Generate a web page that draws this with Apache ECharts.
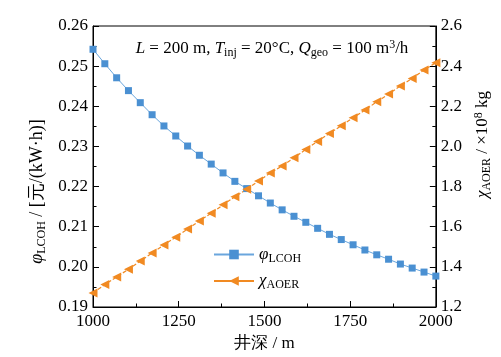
<!DOCTYPE html>
<html>
<head>
<meta charset="utf-8">
<script src="https://cdn.jsdelivr.net/npm/echarts@6/dist/echarts.min.js"></script>
<style>html,body{margin:0;padding:0;background:#fff}#c{width:501px;height:357px}</style>
</head>
<body>
<div id="c"></div>
<script>
// well depth (m)
var depth = [1000, 1034.5, 1069, 1103.4, 1137.9, 1172.4, 1206.9, 1241.4, 1275.9, 1310.3,
             1344.8, 1379.3, 1413.8, 1448.3, 1482.8, 1517.2, 1551.7, 1586.2, 1620.7, 1655.2,
             1689.7, 1724.1, 1758.6, 1793.1, 1827.6, 1862.1, 1896.6, 1931, 1965.5, 2000];
// LCOH (yuan/kWh), left axis
var lcoh = [0.2542, 0.2506, 0.2471, 0.2439, 0.2409, 0.2379, 0.2351, 0.2326, 0.2301, 0.2278,
            0.2256, 0.2234, 0.2213, 0.2195, 0.2177, 0.2159, 0.2142, 0.2126, 0.2111, 0.2096,
            0.2081, 0.2068, 0.2055, 0.2042, 0.2030, 0.2019, 0.2007, 0.1997, 0.1987, 0.1977];
// AOER (1e8 kg), right axis
var aoer = [1.270, 1.312, 1.350, 1.388, 1.429, 1.469, 1.509, 1.548, 1.588, 1.629,
            1.667, 1.709, 1.749, 1.787, 1.828, 1.868, 1.903, 1.943, 1.985, 2.025,
            2.065, 2.103, 2.143, 2.181, 2.222, 2.261, 2.301, 2.339, 2.381, 2.417];
var xTicks = [1000, 1250, 1500, 1750, 2000];
var leftTicks = [0.19, 0.20, 0.21, 0.22, 0.23, 0.24, 0.25, 0.26];
var rightTicks = [1.2, 1.4, 1.6, 1.8, 2.0, 2.2, 2.4, 2.6];

var FONT = 'Liberation Serif';
var BLUE = '#4a90d2', ORANGE = '#f18a22';
function richSet(fs) {
  return {
    n: {fontFamily: FONT, fontSize: fs, fontWeight: 'normal', lineHeight: 20, color: '#000', verticalAlign: 'middle'},
    i: {fontFamily: FONT, fontSize: fs, fontWeight: 'normal', fontStyle: 'italic', lineHeight: 20, color: '#000', verticalAlign: 'middle'},
    s: {fontFamily: FONT, fontSize: Math.round(fs * 0.68), fontWeight: 'normal', lineHeight: 10, color: '#000', verticalAlign: 'bottom'},
    p: {fontFamily: FONT, fontSize: Math.round(fs * 0.68), fontWeight: 'normal', lineHeight: 10, color: '#000', verticalAlign: 'top'}
  };
}
function tickLabel(margin, fmt) {
  return {
    margin: margin, fontFamily: FONT, fontSize: 17, color: '#000',
    formatter: function (v) { return '{n|' + fmt(v) + '}'; },
    rich: {n: {fontFamily: FONT, fontSize: 17, fontWeight: 'normal', color: '#000'}}
  };
}
var chart = echarts.init(document.getElementById('c'), null, {renderer: 'canvas'});
var option = {
  animation: false,
  backgroundColor: '#fff',
  textStyle: {fontFamily: FONT},
  title: {
    text: '{i|L}{n| = 200 m, }{i|T}{s|inj}{n| = 20°C, }{i|Q}{s|geo}{n| = 100 m}{p|3}{n|/h}',
    left: 267, top: 34, textAlign: 'center',
    textStyle: {fontFamily: FONT, fontWeight: 'normal', rich: richSet(17)}
  },
  grid: {left: 93, right: 60, top: 26, bottom: 50, show: true, borderColor: '#000', borderWidth: 1},
  legend: {
    orient: 'vertical', left: 208, top: 241, itemWidth: 40, itemHeight: 12, itemGap: 8,
    lineStyle: {type: 'solid'},
    formatter: function (name) {
      return name === 'lcoh' ? '{i|φ}{s|LCOH}' : '{i|χ}{s|AOER}';
    },
    textStyle: {fontFamily: FONT, rich: richSet(17)},
    data: ['lcoh', 'aoer']
  },
  xAxis: {
    type: 'value', min: xTicks[0], max: xTicks[xTicks.length - 1], interval: 250,
    name: '{n|井深 / m}', nameLocation: 'middle', nameGap: 24,
    nameTextStyle: {fontFamily: FONT, rich: richSet(17)},
    axisLine: {lineStyle: {color: '#000', width: 1}},
    axisTick: {inside: true, length: 6, lineStyle: {color: '#000'}},
    minorTick: {show: true, splitNumber: 2, length: 3.5, lineStyle: {color: '#000'}},
    splitLine: {show: false},
    axisLabel: tickLabel(6, function (v) { return String(v); })
  },
  yAxis: [{
    type: 'value', min: leftTicks[0], max: leftTicks[leftTicks.length - 1], interval: 0.01,
    position: 'left',
    name: '{i|φ}{s|LCOH}{n| / [元/(kW·h)]}', nameLocation: 'middle', nameGap: 32, nameRotate: 90,
    nameTextStyle: {fontFamily: FONT, rich: richSet(18), padding: [0, 50, 0, 0]},
    axisLine: {show: true, lineStyle: {color: '#000', width: 1}},
    axisTick: {inside: true, length: 6, lineStyle: {color: '#000'}},
    minorTick: {show: true, splitNumber: 2, length: 3.5, lineStyle: {color: '#000'}},
    splitLine: {show: false},
    axisLabel: tickLabel(5, function (v) { return v.toFixed(2); })
  }, {
    type: 'value', min: rightTicks[0], max: rightTicks[rightTicks.length - 1], interval: 0.2,
    position: 'right',
    name: '{i|χ}{s|AOER}{n| / ×10}{p|8}{n| kg}', nameLocation: 'middle', nameGap: 36, nameRotate: 90,
    nameTextStyle: {fontFamily: FONT, rich: richSet(17), padding: [0, 0, 0, 44]},
    axisLine: {show: true, lineStyle: {color: '#000', width: 1}},
    axisTick: {inside: true, length: 6, lineStyle: {color: '#000'}},
    minorTick: {show: true, splitNumber: 2, length: 3.5, lineStyle: {color: '#000'}},
    splitLine: {show: false},
    axisLabel: tickLabel(5, function (v) { return v.toFixed(1); })
  }],
  series: [{
    name: 'lcoh', type: 'line', yAxisIndex: 0,
    data: depth.map(function (d, k) { return [d, lcoh[k]]; }),
    symbol: 'rect', symbolSize: 7, showSymbol: true,
    itemStyle: {color: BLUE},
    lineStyle: {color: '#6aa6dd', width: 1}
  }, {
    name: 'aoer', type: 'line', yAxisIndex: 1,
    data: depth.map(function (d, k) { return [d, aoer[k]]; }),
    symbol: 'triangle', symbolSize: 9, symbolRotate: 90, showSymbol: true,
    itemStyle: {color: ORANGE},
    lineStyle: {color: ORANGE, width: 1.2, type: [4, 2]}
  }]
};
chart.setOption(option);
</script>
</body>
</html>
